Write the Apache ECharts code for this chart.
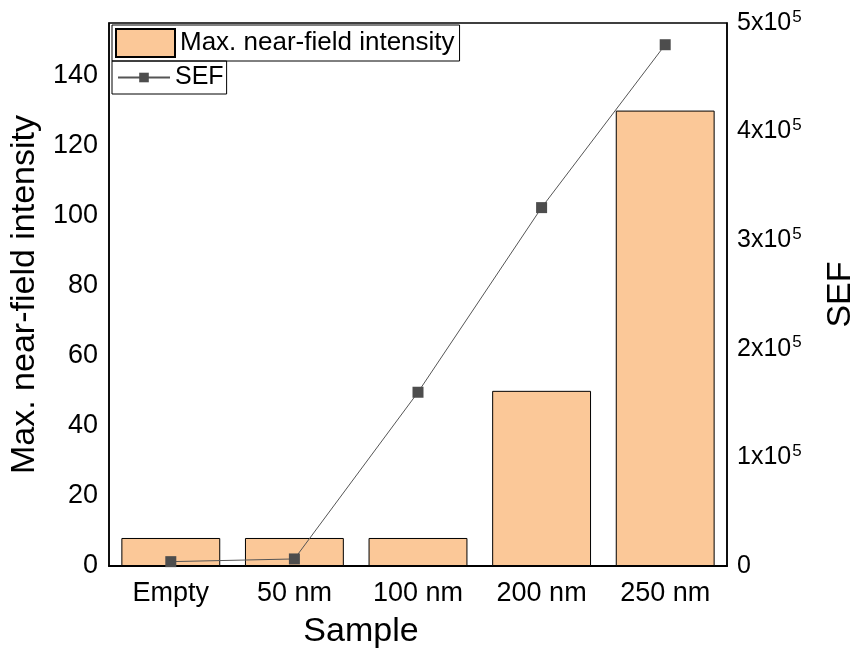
<!DOCTYPE html>
<html>
<head>
<meta charset="utf-8">
<script src="https://cdn.jsdelivr.net/npm/echarts@6/dist/echarts.min.js"></script>
<style>
  html, body {margin: 0; padding: 0; background: #fff;}
  #main {width: 858px; height: 651px;}
</style>
</head>
<body>
<div id="main"></div>
<script>
// values
const samples = ['Empty', '50 nm', '100 nm', '200 nm', '250 nm'];
const intensity = [8, 8, 8, 50, 130];
const sef = [4000, 6500, 160000, 330000, 480000];

const font = 'Liberation Sans, Arial, sans-serif';
const chart = echarts.init(document.getElementById('main'));

chart.setOption({
	animation: false,
	textStyle: {fontFamily: font},
	grid: {
		left: 109, right: 131, top: 23, bottom: 85,
		outerBoundsMode: 'none',
		containLabel: false,
		show: true, borderColor: '#000', borderWidth: 1.5
	},
	legend: [
		{
			data: [{name: 'Max. near-field intensity', icon: 'rect'}],
			left: 112, top: 25,
			padding: [3, 5, 3, 3],
			borderColor: '#000', borderWidth: 1,
			itemWidth: 59, itemHeight: 28,
			textStyle: {fontSize: 26, color: '#000', fontFamily: font}
		},
		{
			data: ['SEF'],
			left: 112, top: 61,
			padding: [4, 3, 4, 5],
			borderColor: '#000', borderWidth: 1,
			itemWidth: 52, itemHeight: 12,
			textStyle: {fontSize: 25, color: '#000', fontFamily: font}
		}
	],
	xAxis: [
		{
			type: 'category',
			data: samples,
			name: 'Sample',
			nameLocation: 'middle',
			nameGap: 49,
			nameTextStyle: {fontSize: 34, color: '#000', padding: [0, 114, 0, 0]},
			axisLine: {lineStyle: {color: '#000', width: 2}},
			axisTick: {alignWithLabel: true, length: 8, lineStyle: {color: '#000', width: 1.5}},
			axisLabel: {fontSize: 27, color: '#000', margin: 14}
		},
		{
			type: 'category',
			data: samples,
			position: 'bottom',
			axisLine: {show: false},
			axisTick: {length: 4, lineStyle: {color: '#000', width: 1.5}},
			axisLabel: {show: false}
		}
	],
	yAxis: [
		{
			type: 'value',
			min: 0, max: 155, interval: 20,
			name: 'Max. near-field intensity',
			nameLocation: 'middle',
			nameRotate: 90,
			nameGap: 65,
			nameTextStyle: {fontSize: 34, color: '#000'},
			axisLine: {show: true, lineStyle: {color: '#000', width: 1.5}},
			axisTick: {show: false},
			splitLine: {show: false},
			axisLabel: {fontSize: 27, color: '#000', margin: 11, showMaxLabel: false}
		},
		{
			type: 'value',
			position: 'right',
			min: 0, max: 500000, interval: 100000,
			name: 'SEF',
			nameLocation: 'middle',
			nameRotate: 90,
			nameGap: 97,
			nameTextStyle: {fontSize: 34, color: '#000'},
			axisLine: {show: true, lineStyle: {color: '#000', width: 1.5}},
			axisTick: {show: false},
			splitLine: {show: false},
			axisLabel: {
				margin: 10,
				formatter: v => v === 0 ? '{b|0}' : '{b|' + (v / 100000) + 'x10}{s|5}',
				rich: {
					b: {fontSize: 25, color: '#000', fontFamily: font},
					s: {fontSize: 17, color: '#000', fontFamily: font, verticalAlign: 'top', padding: [0, 0, 12, 1]}
				}
			}
		}
	],
	series: [
		{
			name: 'Max. near-field intensity',
			type: 'bar',
			data: intensity,
			barCategoryGap: '20%',
			itemStyle: {color: '#FBC898', borderColor: '#000', borderWidth: 1}
		},
		{
			name: 'SEF',
			type: 'line',
			yAxisIndex: 1,
			data: sef,
			symbol: 'rect',
			symbolSize: 11,
			lineStyle: {color: '#555', width: 1},
			itemStyle: {color: '#4d4d4d'}
		}
	]
});
</script>
</body>
</html>
